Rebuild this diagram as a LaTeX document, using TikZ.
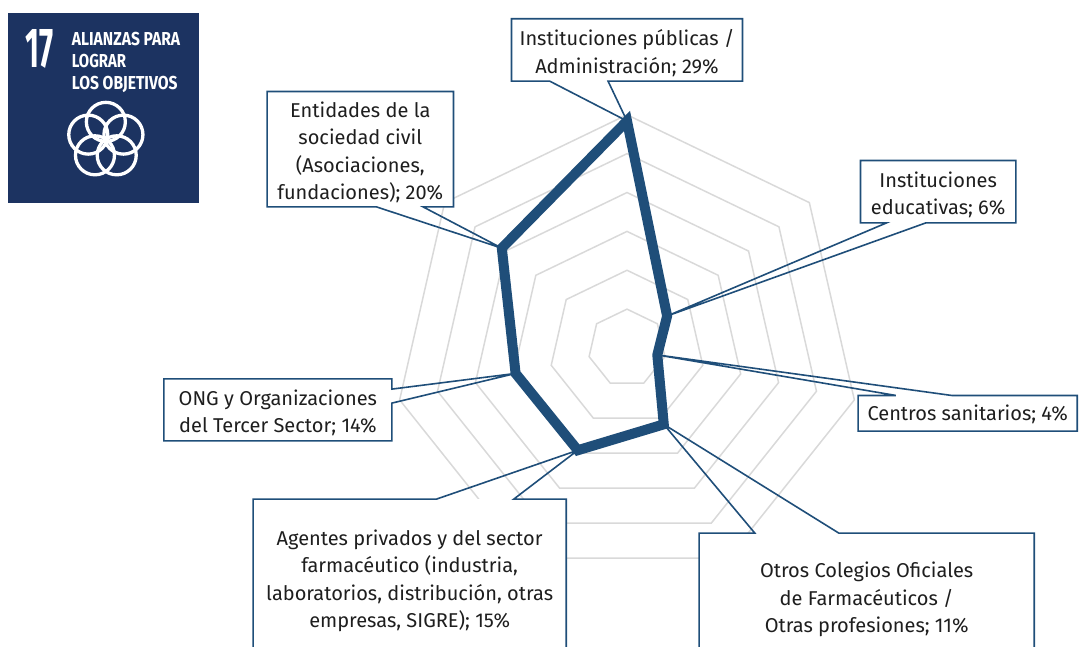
\documentclass[tikz,border=0pt]{standalone}
\usepackage{fontspec}
\setmainfont{Fira Sans}
\usepackage{graphicx}
\usetikzlibrary{calc}
\definecolor{navy}{RGB}{28,51,97}
\definecolor{serie}{RGB}{31,78,121}
\definecolor{ringgray}{RGB}{217,217,217}
\definecolor{txt}{RGB}{30,30,30}
\begin{document}
\begin{tikzpicture}[x=1pt,y=-1pt,
  box/.style={fill=white, draw=none, inner sep=0pt},
  lbltext/.style={inner sep=0pt, align=center, text=txt,
    font=\fontsize{20}{27.5}\selectfont},
  outline/.style={draw=serie, line width=1.6pt, line join=miter},
  gridring/.style={draw=ringgray, line width=1.5pt},
  serieline/.style={draw=serie, line width=10pt, line join=miter, miter limit=10},
  logotext/.style={text=white, inner sep=0pt, anchor=north west, font=\bfseries},
  emblem/.style={draw=white, line width=3.3pt},
]
\useasboundingbox (0,0) rectangle (1080,647);

% ---- SDG 17 logo ----
\fill[navy] (8.3,12.7) rectangle (199,203.3);
\node[logotext] (n17) at (25,29) {\resizebox{28pt}{38pt}{17}};
\node[logotext] (la) at (71.7,31.7) {\resizebox{108.3pt}{13.3pt}{ALIANZAS PARA}};
\node[logotext] (lb) at (71.7,53.7) {\resizebox{54.3pt}{13.3pt}{LOGRAR}};
\node[logotext] (lc) at (71.7,76) {\resizebox{105.7pt}{13.3pt}{LOS OBJETIVOS}};
\coordinate (E) at (105.85,140.35);
\foreach \k in {0,...,4}{
  \draw[emblem] ($(E)+({-90+72*\k}:18.5)$) circle[radius=19.5];
}

% ---- radar grid ----
\coordinate (O) at (627,348);
\foreach \k in {1,...,6}{
  \draw[gridring] ($(O)+(-90:{\k*38.87})$)
    \foreach \i in {1,...,6}{ -- ($(O)+({-90+\i*360/7}:{\k*38.87})$) } -- cycle;
}

% ---- data points ----
\def\s{7.774}
\coordinate (d0) at ($(O)+({-90+0*360/7}:{29.2*\s})$);
\coordinate (d1) at ($(O)+({-90+1*360/7}:{6.6*\s})$);
\coordinate (d2) at ($(O)+({-90+2*360/7}:{4.0*\s})$);
\coordinate (d3) at ($(O)+({-90+3*360/7}:{10.9*\s})$);
\coordinate (d4) at ($(O)+({-90+4*360/7}:{14.6*\s})$);
\coordinate (d5) at ($(O)+({-90+5*360/7}:{14.7*\s})$);
\coordinate (d6) at ($(O)+({-90+6*360/7}:{20.6*\s})$);
\draw[serieline] (d0) -- (d1) -- (d2) -- (d3) -- (d4) -- (d5) -- (d6) -- cycle;

% ---- callouts ----
\node[box, minimum width=230.6pt, minimum height=62pt] (pub) at (627,50) {};
\node[lbltext] (pubtxt) at ($(pub.center)+(0,3)$)
  {Instituciones públicas /\\Administración; 29\%};
\draw[outline] (pub.north west) -- (pub.north east) -- (pub.south east)
  -- ($(pub.south west)+(96.6,0)$) -- (d0) -- ($(pub.south west)+(38.3,0)$)
  -- (pub.south west) -- cycle;

\node[box, minimum width=155pt, minimum height=62pt] (edu) at (938.2,191.7) {};
\node[lbltext] (edutxt) at ($(edu.center)+(0,3)$)
  {Instituciones\\educativas; 6\%};
\draw[outline] (edu.north west) -- (edu.north east) -- (edu.south east)
  -- ($(edu.south west)+(65.3,0)$) -- (d1) -- ($(edu.south west)+(26,0)$)
  -- (edu.south west) -- cycle;

\node[box, minimum width=218.7pt, minimum height=35.3pt] (san) at (967.7,413.3) {};
\node[lbltext] (santxt) at ($(san.center)+(0,1.5)$)
  {Centros sanitarios; 4\%};
\draw[outline] (san.south west) -- (san.north west)
  -- ($(san.north west)+(37.7,0)$) -- (d2) -- ($(san.north west)+(93.4,0)$)
  -- (san.north east) -- (san.south east) -- cycle;

\node[box, minimum width=334.7pt, minimum height=126.4pt] (otr) at (866.65,596.5) {};
\node[lbltext] (otrtxt) at ($(otr.center)+(0,3)$)
  {Otros Colegios Oficiales\\de Farmacéuticos /\\Otras profesiones; 11\%};
\draw[outline] (otr.south west) -- (otr.north west)
  -- ($(otr.north west)+(55.7,0)$) -- (d3) -- ($(otr.north west)+(139.7,0)$)
  -- (otr.north east) -- (otr.south east) -- cycle;

\node[box, minimum width=312.7pt, minimum height=157.4pt] (age) at (409.65,578) {};
\node[lbltext] (agetxt) at ($(age.center)+(0,3)$)
  {Agentes privados y del sector\\farmacéutico (industria,\\laboratorios, distribución, otras\\empresas, SIGRE); 15\%};
\draw[outline] (age.south west) -- (age.north west)
  -- ($(age.north west)+(183.4,0)$) -- (d4) -- ($(age.north west)+(260.7,0)$)
  -- (age.north east) -- (age.south east) -- cycle;

\node[box, minimum width=227.7pt, minimum height=61.7pt] (ong) at (277.85,409.85) {};
\node[lbltext] (ongtxt) at ($(ong.center)+(0,3)$)
  {ONG y Organizaciones\\del Tercer Sector; 14\%};
\draw[outline] (ong.north west) -- (ong.north east)
  -- ($(ong.north east)+(0,10.3)$) -- (d5) -- ($(ong.north east)+(0,24.3)$)
  -- (ong.south east) -- (ong.south west) -- cycle;

\node[box, minimum width=186pt, minimum height=115pt] (ent) at (360.3,149.2) {};
\node[lbltext] (enttxt) at ($(ent.center)+(0,3)$)
  {Entidades de la\\sociedad civil\\(Asociaciones,\\fundaciones); 20\%};
\draw[outline] (ent.north west) -- (ent.north east) -- (ent.south east)
  -- ($(ent.south west)+(156,0)$) -- (d6) -- ($(ent.south west)+(109.4,0)$)
  -- (ent.south west) -- cycle;
\end{tikzpicture}
\end{document}
